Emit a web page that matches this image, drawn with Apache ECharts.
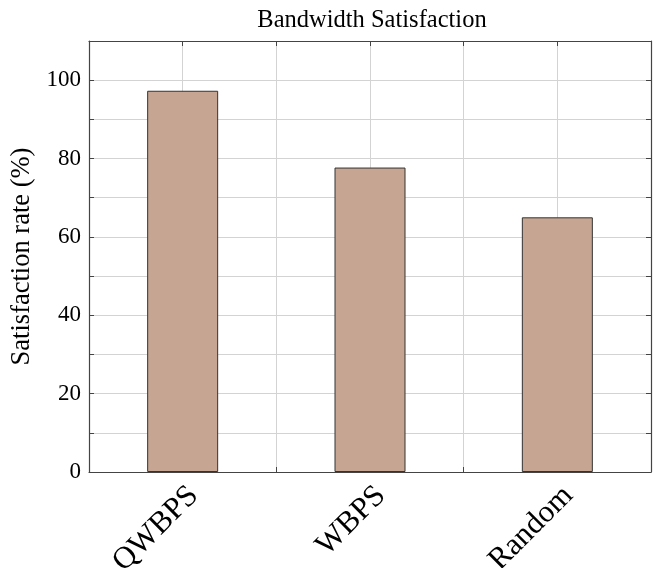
<!DOCTYPE html>
<html><head><meta charset="utf-8">
<script src="https://cdn.jsdelivr.net/npm/echarts@6/dist/echarts.min.js"></script>
<style>html,body{margin:0;padding:0;background:#fff}#c{width:658px;height:568px}</style>
</head><body><div id="c"></div>
<script>
const categories = ['QWBPS', 'WBPS', 'Random'];
const values = [97.3, 77.7, 65.0];
const yMin = 0, yMax = 110, yGridStep = 10, yLabelStep = 20;
const titleText = 'Bandwidth Satisfaction';
const yName = 'Satisfaction rate (%)';

const FONT = '"Liberation Serif", "DejaVu Serif", serif';
const frame = {show: true, onZero: false, lineStyle: {color: '#444', width: 1.2}};
const tick = {show: true, inside: true, length: 5, lineStyle: {color: '#444'}};
const chart = echarts.init(document.getElementById('c'), null, {renderer: 'canvas'});
const isInt = v => Math.abs(v - Math.round(v)) < 1e-6;
chart.setOption({
  animation: false,
  title: {text: titleText, left: 367, top: 3, textAlign: 'center',
    textStyle: {fontFamily: FONT, fontSize: 24.5, fontWeight: 'normal', color: '#000'}},
  grid: {left: 89, top: 41, right: 7, bottom: 96, containLabel: false, outerBoundsMode: 'none'},
  xAxis: [{
    type: 'value', min: -0.5, max: 2.5, interval: 0.5,
    axisLine: frame, axisTick: tick,
    splitLine: {show: true, lineStyle: {color: '#d3d3d3', width: 1}},
    axisLabel: {
      rotate: 45, margin: 8, fontFamily: FONT, fontSize: 31, color: '#000',
      verticalAlign: 'top',
      showMinLabel: false, showMaxLabel: false,
      formatter: v => (isInt(v) && categories[Math.round(v)] !== undefined) ? categories[Math.round(v)] : ''
    }
  }, {
    type: 'value', position: 'top', min: -0.5, max: 2.5, interval: 0.5,
    axisLine: frame, axisTick: tick,
    axisLabel: {show: false}, splitLine: {show: false}
  }],
  yAxis: [{
    type: 'value', min: yMin, max: yMax, interval: yGridStep,
    name: yName, nameLocation: 'middle', nameGap: 50, nameRotate: 90,
    nameTextStyle: {fontFamily: FONT, fontSize: 26.5, color: '#000'},
    axisLine: frame, axisTick: tick,
    splitLine: {show: true, lineStyle: {color: '#d3d3d3', width: 1}},
    axisLabel: {fontFamily: FONT, fontSize: 23, color: '#000', margin: 8,
      formatter: v => (v % yLabelStep === 0 && v <= 100) ? String(v) : ''}
  }, {
    type: 'value', position: 'right', min: yMin, max: yMax, interval: yGridStep,
    axisLine: frame, axisTick: tick,
    axisLabel: {show: false}, splitLine: {show: false}
  }],
  series: [{
    type: 'bar', xAxisIndex: 0, yAxisIndex: 0, barWidth: 71,
    data: categories.map((c, i) => [i, values[i]]),
    itemStyle: {color: '#c6a692', borderColor: '#333', borderWidth: 1}
  }]
});
</script></body></html>
